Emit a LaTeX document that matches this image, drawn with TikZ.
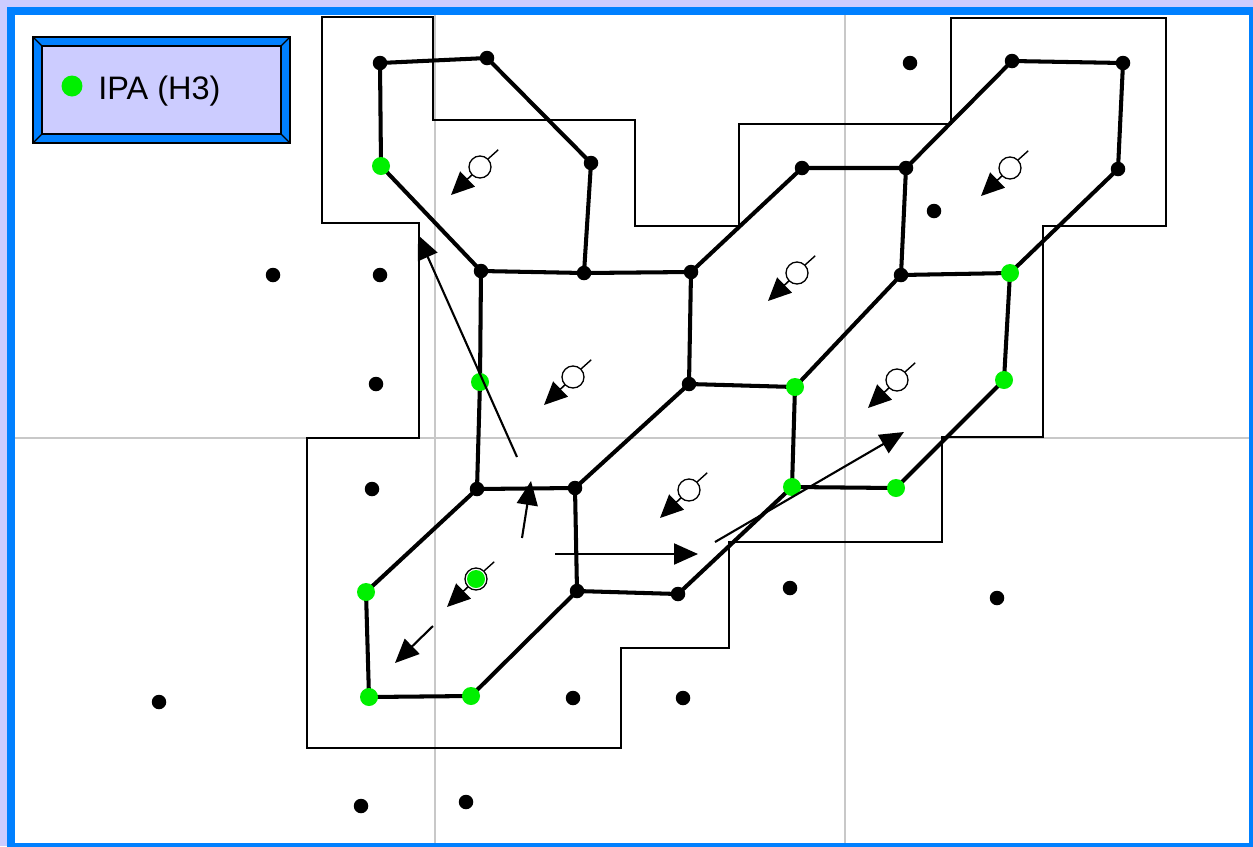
\documentclass[tikz,border=0pt]{standalone}
\usepackage{fontspec}
\setmainfont{Liberation Sans}
\usetikzlibrary{arrows.meta}

\definecolor{lavender}{HTML}{CCCCFF}
\definecolor{frameblue}{HTML}{0080FF}
\definecolor{ipagreen}{HTML}{00F000}
\definecolor{gridgrey}{HTML}{C8C8C8}

\begin{document}
\begin{tikzpicture}[x=0.02cm, y=-0.02cm,
    dot/.style={circle, fill=black, inner sep=0pt, minimum size=0.29cm},
    ipa/.style={circle, fill=ipagreen, inner sep=0pt, minimum size=0.36cm},
    bond/.style={line width=2.3pt, line join=round, line cap=round},
    cell/.style={line width=0.8pt},
    spin/.style={circle, draw=black, fill=white, line width=0.75pt, inner sep=0pt, minimum size=0.44cm},
    spinarrow/.style={-{Triangle[length=0.46cm, width=0.42cm]}, line width=0.9pt},
    hop/.style={-{Triangle[length=0.48cm, width=0.42cm]}, line width=1.2pt}]
    \useasboundingbox (0,0) rectangle (1253,846);

    % frame
    \fill[lavender] (0,0) rectangle (1253,846);
    \draw[frameblue, line width=0.16cm] (11,11) rectangle (1253,847);
    \fill[white] (15,15) rectangle (1249,843);

    % grid
    \draw[gridgrey, line width=0.8pt] (435,15) -- (435,843);
    \draw[gridgrey, line width=0.8pt] (845,15) -- (845,843);
    \draw[gridgrey, line width=0.8pt] (15,438) -- (1249,438);

    % legend
    \fill[frameblue] (33,37) rectangle (290,143);
    \draw[line width=0.7pt] (33,37) rectangle (290,143);
    \filldraw[fill=lavender, line width=0.7pt] (42,46) rectangle (281,134);
    \draw[line width=0.7pt] (33,37) -- (42,46) (290,37) -- (281,46)
        (33,143) -- (42,134) (290,143) -- (281,134);
    \node[ipa, minimum size=0.42cm] (legdot) at (72,86) {};
    \node[anchor=base west, inner sep=0pt, font=\fontsize{18.5}{20}\selectfont] (leglabel) at (98,99) {IPA (H3)};

    % cell outline
    \draw[cell] (322,17) -- (433,17) -- (433,120) -- (635,120) -- (635,226)
        -- (739,226) -- (739,124) -- (951,124) -- (951,18) -- (1166,18)
        -- (1166,226) -- (1043,226) -- (1043,437) -- (942,437) -- (942,542)
        -- (729,542) -- (729,648) -- (621,648) -- (621,748) -- (307,748)
        -- (307,438) -- (419,438) -- (419,223) -- (322,223) -- cycle;

    % hexagon corners
    \coordinate (a1) at (380,63);
    \coordinate (a2) at (487,58);
    \coordinate (a3) at (591,163);
    \coordinate (a4) at (584,273);
    \coordinate (a5) at (481,271);
    \coordinate (a6) at (381,166);
    \coordinate (b1) at (691,272);
    \coordinate (b2) at (689,384);
    \coordinate (c1) at (477,489);
    \coordinate (c2) at (575,488);
    \coordinate (g1) at (480,382);
    \coordinate (d1) at (802,168);
    \coordinate (d2) at (906,168);
    \coordinate (d3) at (901,275);
    \coordinate (g2) at (795,387);
    \coordinate (e1) at (1012,61);
    \coordinate (e2) at (1123,63);
    \coordinate (e3) at (1118,169);
    \coordinate (f1) at (1010,273);
    \coordinate (f2) at (1004,380);
    \coordinate (f3) at (896,488);
    \coordinate (g3) at (792,487);
    \coordinate (h1) at (577,591);
    \coordinate (h2) at (678,594);
    \coordinate (k1) at (366,592);
    \coordinate (j1) at (369,697);
    \coordinate (j2) at (471,696);

    % bonds
    \draw[bond] (a5) -- (a6) -- (a1) -- (a2) -- (a3) -- (a4) -- (a5) -- (g1) -- (c1)
        -- (k1) -- (j1) -- (j2) -- (h1) -- (h2) -- (g3) -- (f3) -- (f2) -- (f1)
        -- (e3) -- (e2) -- (e1) -- (d2) -- (d1) -- (b1) -- (a4);
    \draw[bond] (c1) -- (c2) -- (b2) -- (b1);
    \draw[bond] (c2) -- (h1);
    \draw[bond] (b2) -- (g2) -- (g3);
    \draw[bond] (g2) -- (d3) -- (d2);
    \draw[bond] (d3) -- (f1);

    % sites
    \foreach \v in {a1,a2,a3,a4,a5,b1,b2,c1,c2,d1,d2,d3,e1,e2,e3,h1,h2}
        \node[dot] (n\v) at (\v) {};
    \foreach \v in {a6,g1,g2,g3,f1,f2,f3,k1,j1,j2}
        \node[ipa] (n\v) at (\v) {};
    \foreach \i/\x/\y in {1/273/275, 2/380/275, 3/376/384, 4/372/489, 5/910/63,
        6/934/211, 7/790/588, 8/997/598, 9/159/702, 10/573/698, 11/683/698,
        12/361/806, 13/466/802}
        \node[dot] (p\i) at (\x,\y) {};

    % spins
    \foreach \i/\x/\y in {1/480/167, 2/573/377, 3/797/273, 4/1010/168,
        5/897/380, 6/689/490, 7/476/579} {
        \draw[spinarrow] (\x,\y) -- ++(-29,28);
        \node[spin] (s\i) at (\x,\y) {};
        \draw[line width=0.8pt] (s\i.45) -- ++(10,-9);
    }
    \node[ipa] (i7) at (s7) {};

    % hopping arrows
    \coordinate (t1) at (517,457);
    \coordinate (u1) at (418,235);
    \coordinate (t2) at (522,538);
    \coordinate (u2) at (531,481);
    \coordinate (t3) at (555,554);
    \coordinate (u3) at (698,554);
    \coordinate (t4) at (715,542);
    \coordinate (u4) at (904,432);
    \coordinate (t5) at (433,626);
    \coordinate (u5) at (395,663);
    \foreach \i in {1,...,5}
        \draw[hop] (t\i) -- (u\i);
\end{tikzpicture}
\end{document}
